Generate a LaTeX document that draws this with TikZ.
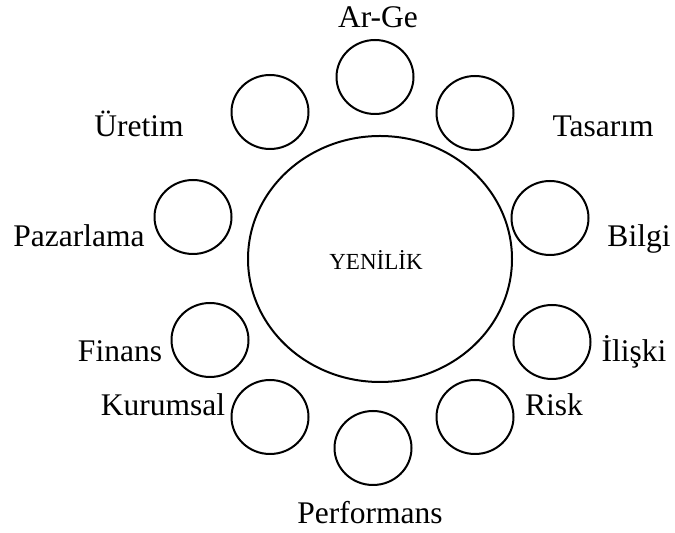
\documentclass[tikz,border=0pt]{standalone}
\usepackage{fontspec}
\setmainfont{Liberation Serif}
\usetikzlibrary{shapes.geometric}
\begin{document}
\begin{tikzpicture}[x=0.5pt,y=-0.5pt,
  small/.style={draw, ellipse, line width=1pt, minimum width=38.5pt, minimum height=37pt, inner sep=0pt},
  big/.style={draw, ellipse, line width=1pt, minimum width=132pt, minimum height=123pt, inner sep=0pt},
  lbl/.style={font=\fontsize{15.75}{18}\selectfont, anchor=base, inner sep=0pt},
  core/.style={font=\fontsize{11.5}{13}\selectfont, inner sep=0pt}]
\useasboundingbox (0,0) rectangle (675,533);
% circles
\node[big] (yen) at (380,259) {};
\node[core] (yent) at (376,260) {YENİLİK};
\node[small] (arge) at (375,77) {};
\node[small] (uret) at (270,112) {};
\node[small] (tasa) at (475,113) {};
\node[small] (paza) at (193,217) {};
\node[small] (bilg) at (550,218) {};
\node[small] (fina) at (210,340) {};
\node[small] (ilis) at (552,342) {};
\node[small] (kuru) at (270,417) {};
\node[small] (risk) at (475,417) {};
\node[small] (perf) at (373,448) {};
% labels
\node[lbl] (largeg) at (378,28) {Ar-Ge};
\node[lbl] (luret) at (139,137) {Üretim};
\node[lbl] (ltasa) at (603,137) {Tasarım};
\node[lbl] (lpaza) at (79,247) {Pazarlama};
\node[lbl] (lbilg) at (639,247) {Bilgi};
\node[lbl] (lfina) at (120,362) {Finans};
\node[lbl] (lilis) at (634,362) {İlişki};
\node[lbl] (lkuru) at (163,416) {Kurumsal};
\node[lbl] (lrisk) at (554,416) {Risk};
\node[lbl] (lperf) at (370,524) {Performans};
\end{tikzpicture}
\end{document}
